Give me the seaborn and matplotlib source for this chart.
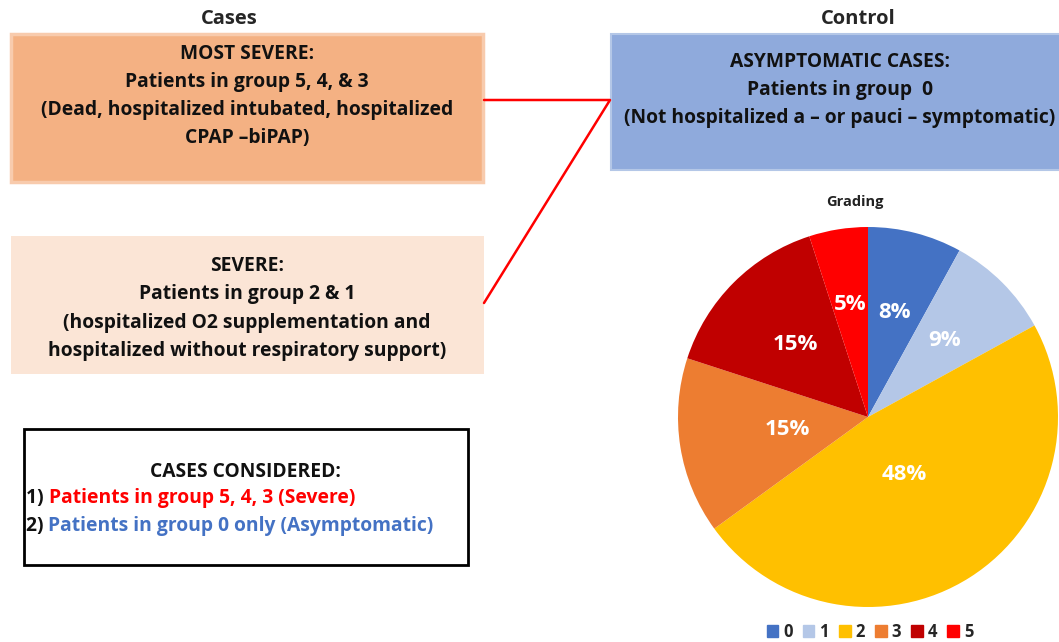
import matplotlib
matplotlib.use('Agg')
import numpy as np
import matplotlib.pyplot as plt
import matplotlib.patches as mpatches
import seaborn as sns

# ── data ─────────────────────────────────────────────────────────────────────
GRADES    = ['0', '1', '2', '3', '4', '5']
PCT       = [8, 9, 48, 15, 15, 5]
COLORS    = ['#4472C4', '#B4C7E7', '#FFC000', '#ED7D31', '#C00000', '#FF0000']
LABEL_R   = [0.57, 0.57, 0.36, 0.43, 0.54, 0.60]

MOST_SEVERE = ['MOST SEVERE:', 'Patients in group 5, 4, & 3',
               '(Dead, hospitalized intubated, hospitalized', 'CPAP \u2013biPAP)']
SEVERE      = ['SEVERE:', 'Patients in group 2 & 1',
               '(hospitalized O2 supplementation and',
               'hospitalized without respiratory support)']
ASYMPT      = ['ASYMPTOMATIC CASES:', 'Patients in group  0',
               '(Not hospitalized a \u2013 or pauci \u2013 symptomatic)']
CONSIDERED  = [('1) ', 'Patients in group 5, 4, 3 (Severe)', '#FF0000'),
               ('2) ', 'Patients in group 0 only (Asymptomatic)', '#4472C4')]

sns.set_theme(style='white')
plt.rcParams['font.family'] = ['Open Sans', 'DejaVu Sans']
FS = 13.9

W, H = 1059, 642
fig = plt.figure(figsize=(W / 100, H / 100), dpi=100)
ax = fig.add_axes([0, 0, 1, 1])
ax.set_xlim(0, W)
ax.set_ylim(H, 0)
ax.axis('off')


def box(x0, y0, x1, y1, fc, ec, lw):
    ax.add_patch(mpatches.Rectangle((x0, y0), x1 - x0, y1 - y0, facecolor=fc,
                                    edgecolor=ec, linewidth=lw, zorder=1))


def lines(xc, ys, texts):
    for y, t in zip(ys, texts):
        ax.text(xc, y, t, ha='center', va='center', fontsize=FS,
                fontweight='bold', color='#111111', zorder=3)


# titles
ax.text(229, 19, 'Cases', ha='center', va='center', fontsize=14.5, fontweight='bold')
ax.text(858, 19, 'Control', ha='center', va='center', fontsize=14.5, fontweight='bold')

# boxes
box(11, 34, 483, 182, '#F4B183', '#F8CBAD', 2.5)
lines(247, [54, 82, 110, 138], MOST_SEVERE)

box(11, 236, 484, 374, '#FBE5D6', 'none', 0)
lines(247, [266, 294, 323, 351], SEVERE)

box(611, 34, 1062, 170, '#8FAADC', '#B4C7E7', 1.5)
lines(840, [62, 90, 118], ASYMPT)

box(24, 429, 468, 565, 'white', 'black', 2)
ax.text(245, 472, 'CASES CONSIDERED:', ha='center', va='center', fontsize=FS,
        fontweight='bold', color='#111111')
for y, (num, txt, col) in zip([498, 526], CONSIDERED):
    t = ax.text(26, y, num, ha='left', va='center', fontsize=FS,
                fontweight='bold', color='#111111')
    ax.annotate(txt, xycoords=t, xy=(1, 0.5), va='center', ha='left',
                fontsize=FS, fontweight='bold', color=col)

# connector
ax.plot([484, 610, 484], [100, 100, 303], color='#FF0000', lw=1.8, zorder=2)

ax.text(855, 202, 'Grading', ha='center', va='center', fontsize=10.5,
        fontweight='bold', color='#222222')

# ── pie ──────────────────────────────────────────────────────────────────────
cx, cy, r = 868, 417, 190
pax = fig.add_axes([(cx - r) / W, (H - cy - r) / H, 2 * r / W, 2 * r / H])
wedges, _ = pax.pie(PCT, colors=COLORS, startangle=90, counterclock=False,
                    wedgeprops=dict(linewidth=0))
pax.set_xlim(-1, 1)
pax.set_ylim(-1, 1)
for w, p, d in zip(wedges, PCT, LABEL_R):
    ang = np.deg2rad((w.theta1 + w.theta2) / 2)
    pax.text(d * np.cos(ang), d * np.sin(ang), f'{p}%', ha='center',
             va='center', color='white', fontsize=16, fontweight='bold')

handles = [mpatches.Patch(color=c, label=g) for c, g in zip(COLORS, GRADES)]
leg = fig.legend(handles=handles, loc='center', bbox_to_anchor=(870 / W, 1 - 632 / H),
                 ncol=6, frameon=False, handlelength=0.7, handleheight=0.7,
                 handletextpad=0.3, columnspacing=0.6,
                 prop=dict(weight='bold', size=12))

fig.savefig('out.png', dpi=100)
